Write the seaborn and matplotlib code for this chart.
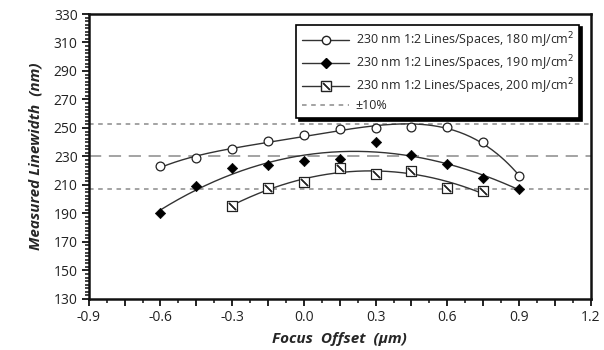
import numpy as np
import pandas as pd
import seaborn as sns
import matplotlib.pyplot as plt
from matplotlib.lines import Line2D
from matplotlib.ticker import MultipleLocator, FixedLocator, FuncFormatter

# data
focus_180 = [-0.6, -0.45, -0.3, -0.15, 0.0, 0.15, 0.3, 0.45, 0.6, 0.75, 0.9]
width_180 = [223, 229, 235, 241, 245, 249, 250, 251, 251, 240, 216]
focus_190 = [-0.6, -0.45, -0.3, -0.15, 0.0, 0.15, 0.3, 0.45, 0.6, 0.75, 0.9]
width_190 = [190, 209, 222, 224, 227, 228, 240, 231, 225, 215, 207]
focus_200 = [-0.3, -0.15, 0.0, 0.15, 0.3, 0.45, 0.6, 0.75]
width_200 = [195, 208, 212, 222, 218, 220, 208, 206]
labels = ["230 nm 1:2 Lines/Spaces, 180 mJ/cm$^2$",
          "230 nm 1:2 Lines/Spaces, 190 mJ/cm$^2$",
          "230 nm 1:2 Lines/Spaces, 200 mJ/cm$^2$"]
target = 230
tol_lines = [207, 253]
y_ticks = [130, 150, 170, 190, 210, 230, 250, 270, 290, 310, 330]
fit_deg = [4, 3, 2]

sns.set_style("ticks")
plt.rcParams['font.family'] = ['Open Sans', 'DejaVu Sans']

fig = plt.figure(figsize=(6.04, 3.5), dpi=100)
ax = fig.add_axes([0.147, 0.146, 0.831, 0.814])

# reference lines
ax.axhline(target, color="#8a8a8a", lw=1.1, ls=(0, (8, 5)), zorder=1)
for v in tol_lines:
    ax.axhline(v, color="#8a8a8a", lw=1.1, ls=(0, (3, 3)), zorder=1)

# fitted curves
for xs, ys, d in zip([focus_180, focus_190, focus_200], [width_180, width_190, width_200], fit_deg):
    p = np.polyfit(xs, ys, d)
    xx = np.linspace(min(xs), max(xs), 200)
    sns.lineplot(x=xx, y=np.polyval(p, xx), ax=ax, color="#333333", lw=1.0, zorder=2)

# points
sns.scatterplot(x=focus_180, y=width_180, ax=ax, marker="o", s=40, facecolor="white",
                edgecolor="#222222", linewidth=0.9, zorder=3)
sns.scatterplot(x=focus_190, y=width_190, ax=ax, marker="D", s=28, color="black",
                edgecolor="black", zorder=3)
sns.scatterplot(x=focus_200, y=width_200, ax=ax, marker="s", s=45, facecolor="white",
                edgecolor="#222222", linewidth=0.9, zorder=3)
sns.scatterplot(x=focus_200, y=width_200, ax=ax, marker=(2, 2, 45), s=45,
                color="#222222", linewidth=0.9, zorder=4)

ax.set_xlim(-0.9, 1.2)
ax.set_ylim(130, 330)
ax.xaxis.set_major_locator(MultipleLocator(0.15))
ax.xaxis.set_minor_locator(MultipleLocator(0.075))
ax.xaxis.set_major_formatter(FuncFormatter(
    lambda v, pos: f"{v:.1f}" if abs(round(v / 0.3) * 0.3 - v) < 1e-6 else ""))
ax.yaxis.set_major_locator(FixedLocator(y_ticks))
ax.yaxis.set_minor_locator(MultipleLocator(2.5))
ax.tick_params(which="major", length=5, width=1.4, labelsize=10, colors="#222222", pad=3)
ax.tick_params(which="minor", length=3, width=1.2, colors="#222222")
for s in ax.spines.values():
    s.set_linewidth(1.8)
    s.set_color("#111111")

ax.set_xlabel("Focus  Offset  (µm)", fontsize=11, fontweight="bold", style="italic", labelpad=5)
ax.set_ylabel("Measured Linewidth  (nm)", fontsize=11, fontweight="bold", style="italic", labelpad=8)

# legend
h1 = Line2D([], [], color="#333333", lw=1.0, marker="o", ms=6, mfc="white", mec="#222222")
h2 = Line2D([], [], color="#333333", lw=1.0, marker="D", ms=5, mfc="black", mec="black")
h3a = Line2D([], [], color="#333333", lw=1.0, marker="s", ms=7, mfc="white", mec="#222222")
h3b = Line2D([], [], ls="none", marker=(2, 2, 45), ms=7, color="#222222", mew=0.9)
h4 = Line2D([], [], color="#8a8a8a", lw=1.1, ls=(0, (3, 3)))
leg = ax.legend([h1, h2, (h3a, h3b), h4], labels + ["±10%"], loc="upper right",
                bbox_to_anchor=(0.99, 0.985), fontsize=9, handlelength=3.8,
                handletextpad=0.5, labelspacing=0.28, borderpad=0.45,
                fancybox=False, framealpha=1, edgecolor="black",
                shadow={"color": "black", "alpha": 1})
leg.get_frame().set_linewidth(1.2)

fig.savefig("out.png", dpi=100)
